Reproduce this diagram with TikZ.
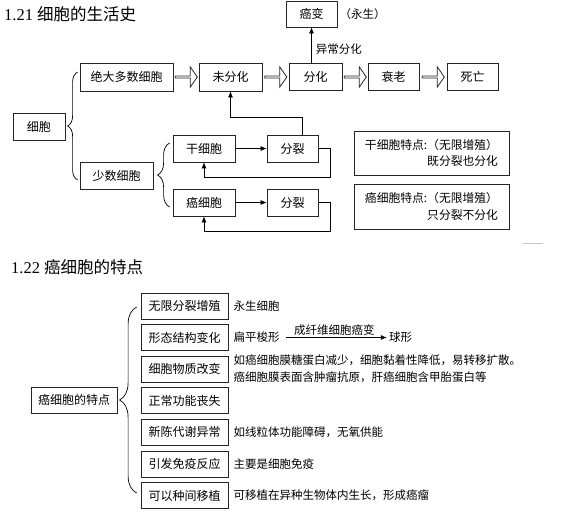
\documentclass[tikz,border=0pt]{standalone}
\usepackage{fontspec}
\setmainfont{Liberation Serif}
\newfontfamily\cjk{Noto Sans CJK SC}
\usepackage{tikz}
\usetikzlibrary{positioning,calc,arrows.meta,shapes.arrows,decorations.pathreplacing}

\tikzset{
  box/.style={draw=black!85, line width=0.8pt, inner sep=0pt, font=\cjk\fontsize{12}{14}\selectfont},
  note/.style={box, align=right, font=\cjk\fontsize{11.8}{16.5}\selectfont},
  trait/.style={box, minimum width=87pt, minimum height=26pt},
  txt/.style={inner sep=0pt, font=\cjk\fontsize{11.5}{17}\selectfont},
  arr/.style={-{Latex[length=6pt,width=5pt]}, line width=0.7pt},
  blockarr/.style={single arrow, draw=black!85, line width=0.8pt, inner sep=0pt,
    minimum height=22pt, minimum width=20pt, single arrow head extend=4pt,
    single arrow tip angle=110},
  bracket/.style={decorate, decoration={brace, amplitude=#1}, line width=0.7pt},
  heading/.style={anchor=west, inner sep=0pt, font=\fontsize{16.5}{20}\selectfont}
}

\begin{document}
\begin{tikzpicture}[x=1pt,y=-1pt]
\useasboundingbox (0,0) rectangle (566,512);

% 1.21
\node[heading] (head1) at (4,14) {1.21 {\cjk 细胞的生活史}};

\node[box, minimum width=52pt, minimum height=27pt] (cell) at (39,126.5) {细胞};
\node[box, minimum width=93pt, minimum height=28pt] (most) at (126.5,77) {绝大多数细胞};
\node[box, minimum width=73pt, minimum height=27pt] (few) at (116.5,175.5) {少数细胞};

\node[box, minimum width=63pt, minimum height=28pt] (undiff) at (230.5,77) {未分化};
\node[box, minimum width=53pt, minimum height=27pt] (diff) at (315.5,77) {分化};
\node[box, minimum width=51pt, minimum height=27pt] (old) at (393.5,77) {衰老};
\node[box, minimum width=51pt, minimum height=27pt] (dead) at (472.5,77) {死亡};
\node[box, minimum width=51pt, minimum height=26pt] (canc) at (311.5,14) {癌变};
\node[txt, right=2pt of canc] (immortal) {（永生）};

\path (most.east) -- node[blockarr] {} (undiff.west);
\path (undiff.east) -- node[blockarr] {} (diff.west);
\path (diff.east) -- node[blockarr] {} (old.west);
\path (old.east) -- node[blockarr] {} (dead.west);
\draw[arr] (diff.north -| canc.south) -- node[txt, right=4pt, pos=0.38] {异常分化} (canc.south);

\node[box, minimum width=62pt, minimum height=27pt] (stem) at (204,148.5) {干细胞};
\node[box, minimum width=62pt, minimum height=27pt] (cc) at (204,202.5) {癌细胞};
\node[box, minimum width=51pt, minimum height=27pt] (split1) at (292.5,148.5) {分裂};
\node[box, minimum width=51pt, minimum height=27pt] (split2) at (292.5,202.5) {分裂};

\draw[bracket=10pt] ($(few.west)+(-2,4.5)$) -- ($(most.west)+(-2,-5)$);
\draw[bracket=12pt] ($(cc.west)+(-3,4.5)$) -- ($(stem.west)+(-3,-5.5)$);

\draw[arr] (stem) -- (split1);
\draw[arr] (cc) -- (split2);
\draw[arr] (split1.east) -- ++(12,0) |- ($(stem.south)+(0,15)$) -- (stem.south);
\draw[arr] (split2.east) -- ++(12,0) |- ($(cc.south)+(0,15)$) -- (cc.south);
\draw[arr] ($(split1.north)+(10,0)$) |- ($(undiff.south)+(0,26)$) -- (undiff.south);

\node[note, minimum width=155pt, minimum height=44pt] (note1) at (431.5,153) {干细胞特点:（无限增殖）\\既分裂也分化};
\node[note, minimum width=155pt, minimum height=45pt] (note2) at (431.5,206.5) {癌细胞特点:（无限增殖）\\只分裂不分化};

\draw[gray!45, line width=0.6pt] (523,243) -- (543,243);

% 1.22
\node[heading] (head2) at (11,267) {1.22 {\cjk 癌细胞的特点}};

\node[box, minimum width=86pt, minimum height=26pt] (feat) at (74,400) {癌细胞的特点};
\node[trait] (t1) at (184.5,306) {无限分裂增殖};
\node[trait] (t2) at (184.5,337.5) {形态结构变化};
\node[trait] (t3) at (184.5,369) {细胞物质改变};
\node[trait] (t4) at (184.5,400.5) {正常功能丧失};
\node[trait] (t5) at (184.5,432) {新陈代谢异常};
\node[trait] (t6) at (184.5,464) {引发免疫反应};
\node[trait] (t7) at (184.5,495.5) {可以种间移植};

\draw[bracket=17pt] ($(t7.west)+(-4,-2.5)$) -- ($(t1.west)+(-4,1)$);

\node[txt, right=5pt of t1] (d1) {永生细胞};
\node[txt, right=5pt of t2] (d2a) {扁平梭形};
\node[txt, right=109pt of d2a] (d2b) {球形};
\draw[arr, shorten <=6pt, shorten >=2pt] (d2a) -- node[txt, above=2pt] {成纤维细胞癌变} (d2b);
\node[txt, right=5pt of t3, align=left] (d3) {如癌细胞膜糖蛋白减少，细胞黏着性降低，易转移扩散。\\癌细胞膜表面含肿瘤抗原，肝癌细胞含甲胎蛋白等};
\node[txt, right=5pt of t5] (d5) {如线粒体功能障碍，无氧供能};
\node[txt, right=5pt of t6] (d6) {主要是细胞免疫};
\node[txt, right=5pt of t7] (d7) {可移植在异种生物体内生长，形成癌瘤};

\end{tikzpicture}
\end{document}
